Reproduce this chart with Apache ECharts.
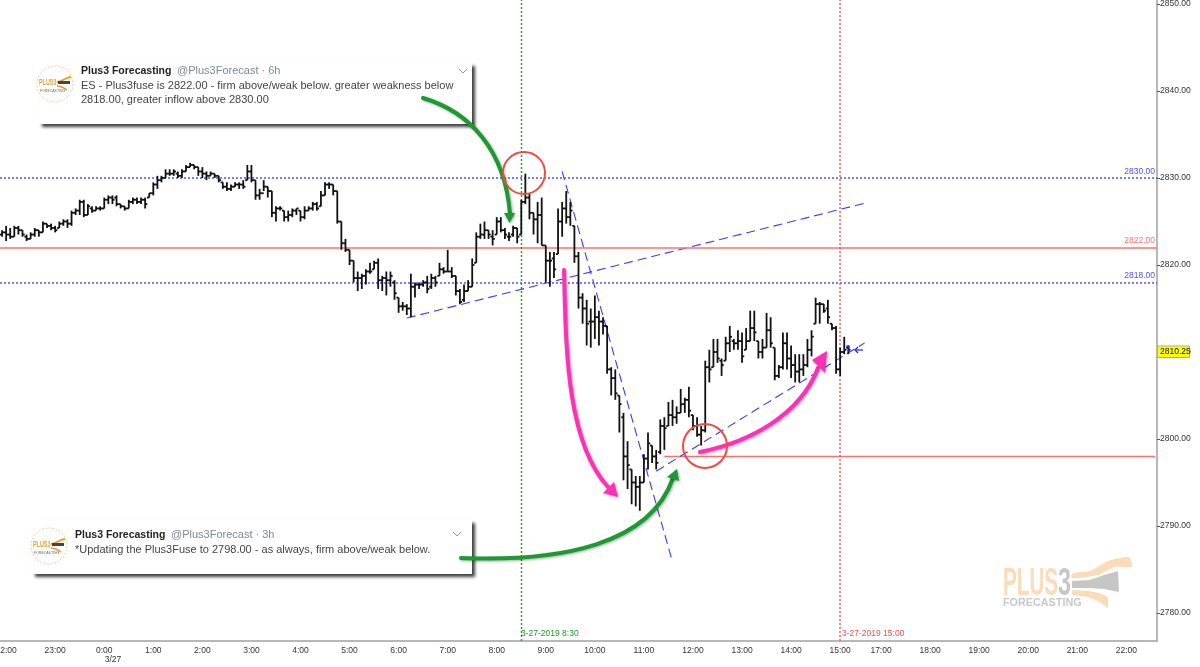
<!DOCTYPE html>
<html>
<head>
<meta charset="utf-8">
<title>ES 5 min</title>
<script src="https://cdn.jsdelivr.net/npm/echarts@6/dist/echarts.min.js"></script>
<style>
    html, body {margin: 0; padding: 0; background: #fff;}
    #chart {width: 1200px; height: 667px;}
</style>
</head>
<body>
<div id="chart"></div>
<script>
// 5 minute bars, first bar is 21:55 on 3/26
var opens = [
    2823.5,2823.75,2823.5,2823.25,2824.25,2824,2823.25,2823,2823.5,2824,
    2823.75,2824.75,2824.5,2824.25,2824.25,2824.75,2825,2824.75,2826,2826.25,
    2827.25,2825.75,2826.5,2826.25,2826.5,2826.5,2827.5,2827.75,2827.75,2827,
    2826.75,2826.5,2827.25,2827.5,2827.25,2827.5,2827.75,2828.25,2829.25,2829.75,
    2830,2830.5,2830.5,2830.5,2830.25,2830.75,2831.25,2831.5,2831.25,2830.75,
    2830.5,2830.25,2830.5,2830.25,2829.5,2829,2828.75,2829,2829.25,2829.25,
    2829.75,2830.75,2829.75,2828,2828.25,2829,2828.5,2826,2826.5,2826.25,
    2825.5,2825.75,2826.25,2826.25,2825.5,2826.25,2826.5,2827,2826.75,2828,
    2829.25,2829.25,2828.5,2825,2822.5,2821.75,2820.5,2818.5,2818.5,2818.75,
    2819.25,2819.5,2820.25,2818.25,2818.5,2818.25,2818,2816.25,2815.25,2815.25,
    2815,2817.5,2817.75,2817.75,2818,2817.5,2818.5,2818.75,2819.5,2819.25,
    2819.25,2818.75,2817,2816,2817,2817.5,2820.25,2823.25,2823.5,2824,
    2823.25,2823.5,2825,2824,2823.25,2823.5,2824.25,2823.5,2827.25,2827.75,
    2826,2825.25,2825.75,2822.25,2820.5,2820.75,2821.25,2825,2826.5,2825.5,
    2824.5,2821,2816.25,2815,2813.5,2813.5,2814,2813.5,2813,2808,
    2807,2805,2802.5,2798,2796.5,2795,2794.5,2795,2797.75,2799.25,
    2798,2798.5,2801.5,2801.5,2802.75,2802.5,2803,2804,2804.5,2802.75,
    2801.5,2800.5,2801,2808.25,2808.25,2810,2809,2809,2811,2811.25,
    2811,2811.25,2810.25,2811.25,2812.75,2811.25,2810,2810.5,2812.5,2810.5,
    2807.25,2808.25,2811,2809.25,2808.5,2807.75,2808,2808.5,2810.25,2813.25,
    2815.5,2815.5,2815,2813.25,2812.75,2808,2810,2810.5
];
var highs = [
    2824,2824.5,2824.25,2824.5,2824.5,2824,2823.5,2823.75,2824.25,2824,
    2825,2824.75,2824.75,2824.5,2825,2825.25,2825.25,2826.25,2826.5,2827.5,
    2827.5,2827,2826.75,2826.75,2826.75,2827.75,2828,2828,2828,2827,
    2826.75,2827.5,2827.75,2827.75,2827.75,2827.75,2828.25,2829.5,2830.25,2830.25,
    2831,2831,2831,2830.75,2831,2831.5,2831.75,2831.5,2831.25,2831.25,
    2830.75,2830.75,2830.5,2830.25,2829.5,2829.5,2829.25,2829.5,2829.5,2829.75,
    2831.5,2831.5,2829.75,2828.75,2829.75,2829,2828.5,2826.75,2826.75,2826.25,
    2826.25,2826.5,2826.5,2826.25,2826.75,2826.75,2827.25,2827.25,2828.5,2829.5,
    2829.5,2829.25,2828.5,2825,2823,2821.75,2820.5,2819.25,2819,2819.5,
    2820.25,2820.5,2820.75,2818.75,2819.25,2819.25,2818.25,2816.25,2815.75,2815.5,
    2819,2818,2818,2818.25,2818.75,2819,2818.75,2820.25,2819.75,2821.75,
    2819.75,2818.75,2817.25,2817.75,2818.25,2820.75,2823.75,2824.75,2825,2824,
    2824,2825.5,2825.5,2824.25,2823.75,2824.5,2824.25,2827.5,2830.5,2828.25,
    2826,2827.25,2827.75,2822.25,2821.5,2821.5,2826.5,2827.25,2828.5,2827.25,
    2824.5,2821.5,2816.75,2816,2815,2816.5,2814.75,2814,2813,2808.25,
    2808,2805,2803,2799.75,2796.5,2795.75,2795.75,2798.25,2800.75,2799.25,
    2798.75,2802.25,2802.5,2804.25,2804.5,2803.75,2805.75,2804.75,2806,2802.75,
    2802.5,2801.5,2809,2810.25,2811.5,2811.5,2809.25,2811.75,2813,2811.5,
    2812.5,2812.25,2812.75,2814.75,2814.75,2811.25,2811.5,2814.5,2814,2810.5,
    2808.5,2812.25,2812.25,2810.75,2809.75,2809.75,2809.75,2811.5,2812.5,2816.25,
    2815.75,2815.5,2816,2813.25,2813,2810.5,2811.75,2810.75
];
var lows = [
    2823.25,2822.75,2823,2823.25,2823.5,2823.25,2822.75,2823,2823.25,2823.25,
    2823.75,2824.25,2824,2823.75,2824.25,2824.5,2824.25,2824.5,2825.75,2825.75,
    2825.5,2825.75,2826,2826.25,2826.25,2826.5,2827,2827,2826.75,2826.5,
    2826.25,2826.5,2827,2827,2827,2826.5,2827.75,2828,2828.75,2829.5,
    2830,2830.25,2830.25,2830,2830,2830.75,2831.25,2831,2830.25,2830,
    2829.75,2830.25,2830,2829.5,2828.75,2828.5,2828.5,2829,2828.75,2828.75,
    2829.75,2829.5,2827.5,2827.5,2828.5,2827.75,2825.5,2825,2826.25,2825,
    2825,2825.5,2825.75,2825,2825.25,2826.25,2826.25,2826.25,2826.75,2828,
    2828.75,2828,2824.75,2821.75,2821.5,2820,2818,2817,2817.25,2817.75,
    2819,2819.5,2817.25,2817,2816.5,2817.5,2816,2814.5,2814.75,2814.25,
    2814,2816.25,2817.25,2817.5,2816.75,2817.25,2817.5,2818.75,2819,2819.25,
    2818.5,2816.5,2815.5,2815.75,2817,2817.5,2820.25,2823,2823,2823,
    2822.25,2823.5,2823.75,2823,2822.75,2823.25,2822.5,2823.5,2827,2825.25,
    2823.5,2822.5,2822.25,2818,2817.5,2818.5,2821.25,2823.25,2824.75,2824.5,
    2820.25,2815,2813.25,2810.75,2810.5,2811.5,2810.75,2812,2807.5,2805,
    2804.5,2800.75,2795.25,2794.25,2792.5,2792.25,2791.75,2795,2796.5,2797.25,
    2796.5,2798.25,2798.75,2801.5,2801.5,2801.75,2803,2803,2802.5,2801,
    2800.25,2799.25,2800.75,2806.5,2808.25,2808.75,2807.25,2809,2810,2810.25,
    2810.25,2808.75,2810.25,2811.25,2811.25,2809.25,2809.25,2810.5,2810.5,2806.75,
    2807,2808,2808,2807,2806.5,2806.5,2807.25,2808.25,2809.5,2813.25,
    2813.25,2814.5,2813.25,2812.5,2807.5,2807.25,2809.75,2809.75
];
var closes = [
    2823.75,2823.5,2823.25,2824.25,2824,2823.5,2823,2823.5,2824,2823.75,
    2824.75,2824.5,2824.25,2824,2824.75,2825,2824.75,2826,2826.25,2827.25,
    2825.75,2826.75,2826.25,2826.5,2826.5,2827.5,2827.75,2827.5,2827,2826.75,
    2826.5,2827.25,2827.5,2827.25,2827.5,2827,2828.25,2829.25,2829.75,2830,
    2830.5,2830.5,2830.75,2830.25,2830.75,2831.25,2831.5,2831.25,2830.75,2830.5,
    2830.25,2830.5,2830.25,2829.75,2829,2828.75,2829,2829.25,2829.25,2829,
    2830.75,2829.75,2828,2828.25,2829,2828.5,2826,2826.5,2826.5,2825.5,
    2825.75,2826.25,2826.5,2825.5,2826.25,2826.5,2827,2826.5,2828,2829.25,
    2829.25,2828.5,2825,2822.5,2821.75,2820.5,2818.5,2818.5,2818.75,2819.25,
    2819.25,2820.25,2818.25,2818.5,2818.25,2818.75,2816.75,2815.25,2815.25,2815,
    2817.5,2817.75,2817.75,2818,2817.25,2818.5,2818,2819.5,2819.25,2819.25,
    2818.75,2817,2815.75,2817,2817.5,2820,2823.25,2823.5,2824,2823.5,
    2823,2825,2824,2823.5,2823.25,2824.25,2823.25,2827.25,2827.75,2826,
    2825.25,2825.75,2822.25,2820.5,2820.5,2819.5,2825,2826.5,2825.5,2826.25,
    2821,2816.25,2815,2813.25,2813.5,2814,2813.5,2813,2808,2807,
    2805.25,2804,2798,2797,2795,2794.5,2795,2797.75,2799.5,2798,
    2797.25,2801.5,2801.25,2802.75,2802.5,2803,2804,2804.5,2803.25,2801.5,
    2800.5,2801,2808.25,2808,2810,2809.25,2808.5,2811,2811.75,2811,
    2811.25,2809.5,2811.25,2812.75,2812.25,2810,2810.5,2812.5,2811,2807.25,
    2808.25,2811,2809.25,2808.5,2807.75,2808,2808.5,2810.25,2811.75,2815.5,
    2815.5,2814.75,2814,2812.75,2808,2810,2810.25,2810.25
];

// price levels and drawn lines
var blueLevels = [2830, 2818];
var redLevels = [2822];
var fuseLevel = [[162, 2798], [282, 2798]];
var trendLines = [
    [[99, 2813.9], [211, 2827.1]],
    [[137, 2830.75], [164, 2785.85]],
    [[160, 2796.3], [211, 2811.05]]
];
var lastPrice = 2810.25;
var yTicks = [2780, 2790, 2800, 2810, 2820, 2830, 2840, 2850];

// axis categories, session closes before 15:50 and reopens at 17:00
var times = [];
for (let i = 0; i < 283; i++) {
    let m = i <= 214 ? 21 * 60 + 55 + i * 5 : 17 * 60 + (i - 215) * 5;
    let h = Math.floor(m / 60) % 24;
    let mm = m % 60;
    times.push(h + ':' + (mm < 10 ? '0' + mm : mm));
}

var barData = [];
for (let i = 0; i < closes.length; i++) {
    barData.push([i, opens[i], highs[i], lows[i], closes[i]]);
}

var FONT = '"Liberation Sans", Arial, sans-serif';
var BLUE = '#5050ff';
var RED = '#ff7070';

function isHour(idx, value) {
    return value.slice(-3) === ':00';
}

// open tick on the left, close tick on the right
function renderBar(params, api) {
    let x = api.coord([api.value(0), 0])[0];
    let yO = api.coord([0, api.value(1)])[1];
    let yH = api.coord([0, api.value(2)])[1];
    let yL = api.coord([0, api.value(3)])[1];
    let yC = api.coord([0, api.value(4)])[1];
    let style = {stroke: '#111', lineWidth: 1.8, fill: null};
    return {
        type: 'group',
        children: [
            {type: 'line', shape: {x1: x, y1: yH, x2: x, y2: yL}, style: style},
            {type: 'line', shape: {x1: x - 2.2, y1: yO, x2: x, y2: yO}, style: style},
            {type: 'line', shape: {x1: x, y1: yC, x2: x + 2.2, y2: yC}, style: style}
        ]
    };
}

function levelLine(value, color, type) {
    return {
        yAxis: value,
        lineStyle: {color: color, type: type, width: 1.5},
        label: {color: color, formatter: value.toFixed(2)}
    };
}

var markData = [];
blueLevels.forEach(function (v) { markData.push(levelLine(v, BLUE, [2, 2])); });
redLevels.forEach(function (v) { markData.push(levelLine(v, RED, 'solid')); });

function trendSeries(points) {
    return {
        type: 'line', data: points, symbol: 'none', silent: true, z: 4,
        lineStyle: {color: '#3a3aff', width: 1.1, type: [9, 5]}
    };
}

var ARROW_SHADOW = {shadowBlur: 3, shadowColor: 'rgba(0,0,0,0.35)', shadowOffsetX: 1, shadowOffsetY: 1};

function curve(c, color, width) {
    return {
        type: 'bezierCurve', z: 20,
        shape: {x1: c[0], y1: c[1], cpx1: c[2], cpy1: c[3], cpx2: c[4], cpy2: c[5], x2: c[6], y2: c[7]},
        style: Object.assign({fill: null, stroke: color, lineWidth: width, lineCap: 'round'}, ARROW_SHADOW)
    };
}

function head(points, color) {
    return {
        type: 'polygon', z: 21,
        shape: {points: points},
        style: Object.assign({fill: color}, ARROW_SHADOW)
    };
}

function ring(cx, cy, r) {
    return {
        type: 'circle', z: 22,
        shape: {cx: cx, cy: cy, r: r},
        style: {fill: null, stroke: '#ee4c40', lineWidth: 2}
    };
}

function label(x, y, text, opts, scaleX) {
    return {
        type: 'text', z: 15, x: x, y: y, scaleX: scaleX || 1,
        style: Object.assign({
            text: text, font: '11px ' + FONT, fill: '#444', verticalAlign: 'middle'
        }, opts || {})
    };
}

function avatar(cx, cy) {
    return [
        {type: 'circle', z: 12, shape: {cx: cx, cy: cy, r: 18},
            style: {fill: '#fff', stroke: '#f2c79a', lineWidth: 1, lineDash: [2, 1.5]}},
        label(cx - 16, cy - 1, 'PLUS3', {font: 'bold 9px ' + FONT, fill: '#e8a23a'}, 0.6),
        {type: 'bezierCurve', z: 13,
            shape: {x1: cx + 2, y1: cy - 2, cpx1: cx + 7, cpy1: cy - 2, cpx2: cx + 11, cpy2: cy - 7, x2: cx + 16, y2: cy - 7},
            style: {fill: null, stroke: '#f09a20', lineWidth: 2}},
        {type: 'rect', z: 13, shape: {x: cx + 3, y: cy - 3, width: 12, height: 3}, style: {fill: '#444'}},
        {type: 'bezierCurve', z: 13,
            shape: {x1: cx + 2, y1: cy + 2, cpx1: cx + 7, cpy1: cy + 2, cpx2: cx + 9, cpy2: cy + 4, x2: cx + 12, y2: cy + 6},
            style: {fill: null, stroke: '#f09a20', lineWidth: 1.5}},
        label(cx - 15, cy + 7, 'FORECASTING', {font: '3.5px ' + FONT, fill: '#666'})
    ];
}

function tweetBox(x, y, w, h, chevronX, chevronY) {
    return [
        {type: 'rect', z: 10, shape: {x: x, y: y, width: w, height: h},
            style: {fill: '#fff', shadowBlur: 3, shadowColor: 'rgba(0,0,0,0.75)', shadowOffsetX: 3, shadowOffsetY: 3}},
        {type: 'polyline', z: 12, shape: {points: [[chevronX - 4, chevronY - 2], [chevronX, chevronY + 2], [chevronX + 4, chevronY - 2]]},
            style: {fill: null, stroke: '#8a9aa6', lineWidth: 1}}
    ];
}

var shapes = [].concat(
    tweetBox(39, 63, 433, 61, 463, 71),
    avatar(55, 84),
    [
        label(81, 71, 'Plus3 Forecasting', {font: 'bold 10.5px ' + FONT, fill: '#222'}),
        label(177, 71, '@Plus3Forecast · 6h', {fill: '#7c8a96'}),
        label(81, 86, 'ES - Plus3fuse is 2822.00 - firm above/weak below. greater weakness below'),
        label(81, 100, '2818.00, greater inflow above 2830.00')
    ],
    tweetBox(32, 520, 440, 54, 457, 534),
    avatar(49, 546),
    [
        label(75, 535, 'Plus3 Forecasting', {font: 'bold 10.5px ' + FONT, fill: '#222'}),
        label(171, 535, '@Plus3Forecast · 3h', {fill: '#7c8a96'}),
        label(75, 550, '*Updating the Plus3Fuse to 2798.00 - as always, firm above/weak below.')
    ],
    [
        curve([423, 98, 470, 112, 505, 150, 510, 214], '#1a9a30', 4),
        head([[504, 213], [515, 213], [509.5, 223]], '#1a9a30'),
        curve([461, 558, 560, 562, 650, 545, 673, 478], '#1a9a30', 4),
        head([[667, 477], [679, 481], [677, 469]], '#1a9a30'),
        curve([564, 270, 566, 340, 565, 440, 608, 487], '#ff30b8', 4),
        head([[614, 482], [603, 493], [618, 497]], '#ff30b8'),
        curve([700, 452, 750, 442, 800, 415, 818, 368], '#ff30b8', 4),
        head([[812, 360], [825, 373], [827, 351]], '#ff30b8'),
        ring(524, 173, 21),
        ring(705, 446, 22)
    ],
    [
        // marker by the last bar
        {type: 'polyline', z: 9, shape: {points: [[846, 346], [849, 346], [849, 352]]},
            style: {fill: null, stroke: '#2020ff', lineWidth: 1.2}},
        {type: 'polyline', z: 9, shape: {points: [[858, 347], [855, 350], [858, 353]]},
            style: {fill: null, stroke: '#2020ff', lineWidth: 1.2}},
        {type: 'line', z: 9, shape: {x1: 855, y1: 350, x2: 863, y2: 350},
            style: {stroke: '#2020ff', lineWidth: 1.2}}
    ],
    [
        // vertical line captions
        label(521, 634, '3-27-2019 8:30', {font: '8.5px ' + FONT, fill: '#1f9a1f'}),
        label(842, 634, '3-27-2019 15:00', {font: '8.5px ' + FONT, fill: '#f05050'}),
        // date under the midnight tick
        label(113, 660, '3/27', {font: '8.5px ' + FONT, fill: '#333', align: 'center'}),
        // last price tag
        {type: 'rect', z: 15, shape: {x: 1157.5, y: 346, width: 32, height: 11.5},
            style: {fill: '#ffff00', stroke: '#aaa', lineWidth: 1}},
        label(1160, 352, lastPrice.toFixed(2), {font: '8.5px ' + FONT, fill: '#111'})
    ],
    [
        // watermark
        {type: 'polygon', z: 2, shape: {smooth: 0.2, points: [[1072, 573], [1090, 571], [1108, 561], [1125, 557], [1130, 558], [1132, 567], [1115, 567], [1098, 575], [1072, 578]]}, style: {fill: '#fbdcb8'}},
        {type: 'polygon', z: 2, shape: {points: [[1072, 581], [1090, 580], [1104, 575], [1118, 571], [1119, 592], [1104, 589], [1090, 588], [1072, 588]]}, style: {fill: '#c6c6c6'}},
        {type: 'polygon', z: 2, shape: {points: [[1072, 590], [1088, 591], [1100, 593], [1108, 597], [1108, 608], [1098, 601], [1088, 597], [1072, 595]]}, style: {fill: '#fbdcb8'}},
        label(1003, 584, 'PLUS', {font: 'bold 39px ' + FONT, fill: '#fbdcb8'}, 0.53),
        label(1058, 584, '3', {font: 'bold 39px ' + FONT, fill: '#c6c6c6'}, 0.6),
        label(1003, 603, 'FORECASTING', {font: 'bold 10.8px ' + FONT, fill: '#c8c8c8'})
    ]
);

var myChart = echarts.init(document.getElementById('chart'), null, {renderer: 'canvas'});
myChart.setOption({
    animation: false,
    backgroundColor: '#fff',
    grid: {left: 0, right: 43, top: 0, bottom: 26, outerBoundsMode: 'none', containLabel: false},
    xAxis: {
        type: 'category',
        data: times,
        boundaryGap: true,
        axisLine: {lineStyle: {color: '#a0a0a0', width: 1.5}},
        axisTick: {alignWithLabel: true, interval: isHour, length: 3, lineStyle: {color: '#555'}},
        axisLabel: {interval: isHour, color: '#333', fontFamily: FONT, fontSize: 8.5, margin: 5},
        splitLine: {show: false}
    },
    yAxis: {
        type: 'value',
        position: 'right',
        min: 2776.78,
        max: 2850.46,
        axisLine: {show: true, lineStyle: {color: '#a0a0a0', width: 1.5}},
        axisTick: {show: true, length: 3, customValues: yTicks, lineStyle: {color: '#555'}},
        axisLabel: {
            color: '#333', fontFamily: FONT, fontSize: 8.5, margin: 3, customValues: yTicks,
            formatter: function (v) { return v.toFixed(2); }
        },
        splitLine: {show: false}
    },
    graphic: {elements: shapes},
    series: [
        {
            type: 'line', data: [], silent: true, z: 3,
            markLine: {
                silent: true, symbol: 'none', animation: false,
                label: {position: 'insideEndTop', fontFamily: FONT, fontSize: 8.5, distance: 2},
                data: markData.concat([
                    {xAxis: 127, lineStyle: {color: '#00b000', type: [2, 2], width: 1.4}, label: {show: false}},
                    {xAxis: 205, lineStyle: {color: '#ff5c5c', type: [2, 2], width: 1.5}, label: {show: false}}
                ])
            }
        },
        {
            type: 'line', data: fuseLevel, symbol: 'none', silent: true, z: 3,
            lineStyle: {color: RED, width: 1.5}
        },
        trendSeries(trendLines[0]),
        trendSeries(trendLines[1]),
        trendSeries(trendLines[2]),
        {
            type: 'custom',
            data: barData,
            renderItem: renderBar,
            encode: {x: 0, y: [1, 2, 3, 4]},
            silent: true,
            clip: true,
            z: 5
        }
    ]
});
</script>
</body>
</html>
